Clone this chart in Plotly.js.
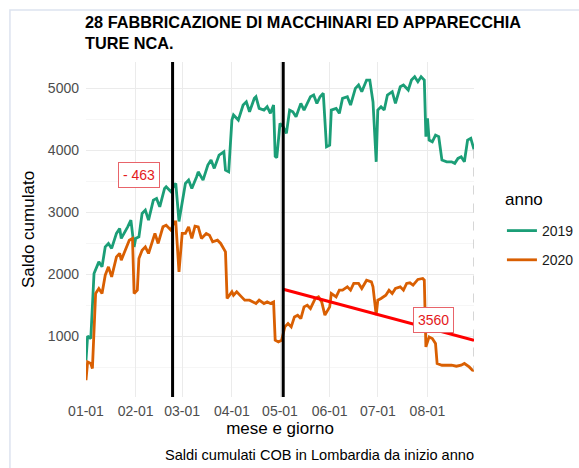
<!DOCTYPE html>
<html>
<head>
<meta charset="utf-8">
<script src="https://cdn.plot.ly/plotly-3.0.1.min.js"></script>
<style>html,body{margin:0;padding:0;background:#fff;}#chart{width:579px;height:468px;}</style>
</head>
<body>
<div id="chart"></div>
<script>
// ---- data ----
const dates2019 = ['2020-01-01','2020-01-02','2020-01-04','2020-01-06','2020-01-09','2020-01-11','2020-01-13','2020-01-15','2020-01-17','2020-01-20','2020-01-22','2020-01-23','2020-01-27','2020-01-29','2020-01-31','2020-02-01','2020-02-03','2020-02-05','2020-02-07','2020-02-09','2020-02-12','2020-02-14','2020-02-16','2020-02-19','2020-02-20','2020-02-23','2020-02-25','2020-02-26','2020-02-28','2020-03-01','2020-03-03','2020-03-05','2020-03-07','2020-03-10','2020-03-11','2020-03-14','2020-03-17','2020-03-19','2020-03-21','2020-03-24','2020-03-27','2020-03-28','2020-03-30','2020-04-01','2020-04-02','2020-04-05','2020-04-08','2020-04-10','2020-04-12','2020-04-15','2020-04-16','2020-04-18','2020-04-21','2020-04-23','2020-04-25','2020-04-27','2020-04-28','2020-04-29','2020-05-01','2020-05-03','2020-05-05','2020-05-07','2020-05-09','2020-05-11','2020-05-14','2020-05-16','2020-05-18','2020-05-20','2020-05-22','2020-05-24','2020-05-26','2020-05-28','2020-05-30','2020-06-01','2020-06-02','2020-06-05','2020-06-07','2020-06-09','2020-06-12','2020-06-14','2020-06-17','2020-06-19','2020-06-21','2020-06-24','2020-06-26','2020-06-28','2020-06-30','2020-07-01','2020-07-03','2020-07-05','2020-07-07','2020-07-10','2020-07-12','2020-07-15','2020-07-17','2020-07-20','2020-07-22','2020-07-24','2020-07-26','2020-07-28','2020-07-30','2020-07-31','2020-08-01','2020-08-02','2020-08-04','2020-08-06','2020-08-08','2020-08-10','2020-08-13','2020-08-16','2020-08-18','2020-08-20','2020-08-22','2020-08-24','2020-08-26','2020-08-28','2020-08-30'];
const values2019 = [610,1000,963,2011,2198,2118,2440,2495,2415,2657,2737,2576,2763,2871,2440,2576,2602,2979,3032,2871,3194,3221,3086,3382,3408,3328,3436,3463,2850,3194,3463,3516,3382,3570,3650,3516,3758,3839,3705,3920,3973,3678,3650,4484,4565,4484,4726,4779,4618,4834,4860,4673,4645,4699,4592,4726,3900,3880,4431,4376,4270,4645,4618,4537,4753,4645,4753,4860,4887,4753,4860,4915,4053,4081,4645,4673,4592,4834,4860,4726,4995,5049,4941,5129,5129,4779,3811,4645,4699,4645,4887,4941,4753,5021,5049,4968,5129,5183,5102,5183,5129,4215,4511,4161,4134,4242,4215,3839,3811,3811,3786,3866,3892,3811,4161,4189,4010];

const dates2020 = ['2020-01-01','2020-01-02','2020-01-04','2020-01-05','2020-01-07','2020-01-09','2020-01-11','2020-01-13','2020-01-15','2020-01-17','2020-01-20','2020-01-22','2020-01-23','2020-01-26','2020-01-28','2020-01-30','2020-01-31','2020-02-02','2020-02-03','2020-02-05','2020-02-07','2020-02-09','2020-02-12','2020-02-13','2020-02-15','2020-02-18','2020-02-20','2020-02-23','2020-02-25','2020-02-26','2020-02-28','2020-03-01','2020-03-03','2020-03-05','2020-03-07','2020-03-09','2020-03-11','2020-03-13','2020-03-16','2020-03-18','2020-03-20','2020-03-23','2020-03-25','2020-03-28','2020-03-29','2020-04-01','2020-04-02','2020-04-04','2020-04-07','2020-04-09','2020-04-12','2020-04-14','2020-04-16','2020-04-18','2020-04-21','2020-04-23','2020-04-25','2020-04-27','2020-04-28','2020-04-30','2020-05-02','2020-05-04','2020-05-06','2020-05-08','2020-05-10','2020-05-12','2020-05-14','2020-05-16','2020-05-18','2020-05-20','2020-05-23','2020-05-25','2020-05-27','2020-05-29','2020-06-01','2020-06-02','2020-06-05','2020-06-07','2020-06-09','2020-06-12','2020-06-14','2020-06-16','2020-06-19','2020-06-21','2020-06-24','2020-06-27','2020-06-28','2020-06-30','2020-07-01','2020-07-03','2020-07-06','2020-07-08','2020-07-10','2020-07-12','2020-07-15','2020-07-17','2020-07-19','2020-07-21','2020-07-23','2020-07-26','2020-07-29','2020-07-30','2020-07-31','2020-08-02','2020-08-04','2020-08-06','2020-08-07','2020-08-10','2020-08-13','2020-08-16','2020-08-19','2020-08-22','2020-08-24','2020-08-27','2020-08-29','2020-08-30'];
const values2020 = [290,585,560,479,1689,1769,1689,1984,2118,1957,2279,2334,2226,2415,2548,2576,1689,1742,2253,2387,2440,2334,2602,2657,2495,2763,2790,2710,2844,2844,2037,2657,2657,2763,2576,2774,2763,2576,2657,2629,2521,2548,2495,2360,1608,1715,1661,1715,1634,1581,1581,1553,1527,1581,1527,1553,1527,1553,935,908,935,1150,1205,1150,1311,1339,1285,1473,1500,1447,1608,1634,1553,1339,1473,1689,1634,1742,1742,1795,1742,1850,1850,1769,1903,1876,1795,1339,1581,1608,1661,1742,1689,1769,1795,1742,1850,1860,1823,1915,1931,1903,827,989,963,882,560,532,532,532,516,532,560,505,452,450];

const eventDates = ['2020-02-24','2020-05-03'];
const trendDates = ['2020-05-03','2020-08-30'];
const trendValues = [1758, 935];
const gapDates = ['2020-08-30','2020-08-30'];
const gapValues = [4010, 450];
const labelDates = ['2020-02-03','2020-08-05'];
const labelValues = [3600, 1258];
const labelTexts = ['- 463','3560'];
const monthTicks = ['2020-01-01','2020-02-01','2020-03-01','2020-04-01','2020-05-01','2020-06-01','2020-07-01','2020-08-01'];

const FONT = 'Liberation Sans, Arial, Helvetica, sans-serif';

const traces = [
  {x: dates2019, y: values2019, type:'scatter', mode:'lines', name:'2019', legendgroup:'a',
   line:{color:'#1B9E77', width:2.8}},
  {x: dates2020, y: values2020, type:'scatter', mode:'lines', name:'2020', legendgroup:'b',
   line:{color:'#D95F02', width:2.8}},
  {x: gapDates, y: gapValues, type:'scatter', mode:'lines', showlegend:false,
   line:{color:'#C8C8C8', width:1.5, dash:'dash'}},
  {x: trendDates, y: trendValues, type:'scatter', mode:'lines', showlegend:false,
   line:{color:'#FF0000', width:3}}
];

const shapes = eventDates.map(d => ({type:'line', xref:'x', yref:'paper', x0:d, x1:d, y0:0, y1:1,
  line:{color:'#000000', width:3}}));
shapes.push({type:'rect', xref:'paper', yref:'paper', x0:-0.196, x1:1.3, y0:-0.25, y1:1.155,
  line:{color:'#DDE3EF', width:1.5}, fillcolor:'rgba(0,0,0,0)', layer:'below'});

const annotations = labelTexts.map((t,i) => ({x: labelDates[i], y: labelValues[i], xref:'x', yref:'y',
  text: t, showarrow:false, font:{family:FONT, size:14, color:'#E41A1C'},
  bgcolor:'#FFFFFF', bordercolor:'#E8646A', borderwidth:1, borderpad:4}));
annotations.push({xref:'paper', yref:'paper', x:1.0, xshift:2, y:-0.174, xanchor:'right', yanchor:'middle',
  text:'Saldi cumulati COB in Lombardia da inizio anno', showarrow:false,
  font:{family:FONT, size:14.6, color:'#000000'}});
annotations.push({xref:'paper', yref:'paper', x:(503-86)/388, y:1-(199-62)/335, xanchor:'left', yanchor:'middle',
  text:'anno', showarrow:false, font:{family:FONT, size:17, color:'#000000'}});

const layout = {
  width:579, height:468,
  margin:{l:86, r:105, t:62, b:71, autoexpand:false},
  paper_bgcolor:'#FFFFFF', plot_bgcolor:'#FFFFFF',
  font:{family:FONT, color:'#000000'},
  title:{text:'<b>28 FABBRICAZIONE DI MACCHINARI ED APPARECCHIA<br>TURE NCA.</b>',
    x:85/579, xanchor:'left', xref:'container', y:1-28/468, yanchor:'top', yref:'container',
    font:{family:FONT, size:16.3, color:'#000000'}},
  xaxis:{type:'date', range:['2020-01-01','2020-08-30'], tickmode:'array', tickvals:monthTicks,
    tickformat:'%m-%d', showgrid:true, gridcolor:'#EBEBEB', gridwidth:1, zeroline:false, showline:false,
    ticks:'', ticklabelstandoff:4, tickfont:{family:FONT, size:14, color:'#4D4D4D'},
    title:{text:'mese e giorno', font:{family:FONT, size:17, color:'#000000'}, standoff:4}},
  yaxis:{range:[20,5420], tickmode:'linear', tick0:0, dtick:1000, showgrid:true, gridcolor:'#EBEBEB',
    gridwidth:1, zeroline:false, showline:false, ticks:'', ticklabelstandoff:6,
    tickfont:{family:FONT, size:14, color:'#4D4D4D'},
    minor:{tickmode:'linear', tick0:0, dtick:500, showgrid:true, gridcolor:'#F2F2F2', gridwidth:0.7, ticks:''},
    title:{text:'Saldo cumulato', font:{family:FONT, size:17, color:'#000000'}, standoff:8}},
  legend:{x:1.072, xanchor:'left', y:1-(215-62)/335, yanchor:'top', bgcolor:'rgba(0,0,0,0)',
    font:{family:FONT, size:14, color:'#1A1A1A'}, tracegroupgap:8},
  shapes: shapes,
  annotations: annotations,
  showlegend:true
};

Plotly.newPlot('chart', traces, layout, {displayModeBar:false, staticPlot:true});
</script>
</body>
</html>
